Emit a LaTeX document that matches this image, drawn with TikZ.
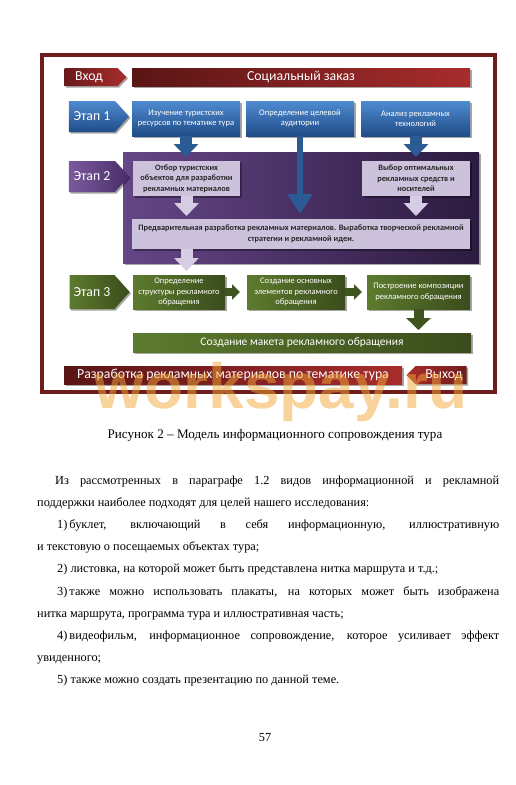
\documentclass[tikz,border=0pt]{standalone}
\usepackage{fontspec}
\setmainfont{Liberation Serif}
\newfontfamily\diagfont{Carlito}
\newfontfamily\wmfont{Liberation Sans}
\usetikzlibrary{shapes.symbols,shadows,arrows.meta,calc}
\definecolor{framec}{HTML}{6E1C1C}
\definecolor{redL}{HTML}{5A1515}
\definecolor{redR}{HTML}{A82C2C}
\definecolor{blueT}{HTML}{4F8BD0}
\definecolor{blueB}{HTML}{1F4C88}
\definecolor{bluearr}{HTML}{2B5B94}
\definecolor{purL}{HTML}{654686}
\definecolor{purR}{HTML}{2C1B40}
\definecolor{stagepL}{HTML}{7A5A9C}
\definecolor{stagepR}{HTML}{4A2C6A}
\definecolor{lav}{HTML}{CDC2DC}
\definecolor{lavarr}{HTML}{D6CCE3}
\definecolor{grL}{HTML}{5D7B2E}
\definecolor{grR}{HTML}{3A4C1C}
\definecolor{grarr}{HTML}{3E5520}
\definecolor{wmc}{HTML}{F2A83A}
\begin{document}
\begin{tikzpicture}[x=1pt,y=-1pt,
  shadowed/.style={drop shadow={shadow xshift=1.5pt,shadow yshift=-1.5pt,opacity=0.35,fill=black}},
  box/.style={rectangle,inner sep=0pt,outer sep=0pt,align=center},
  bigtxt/.style={font=\diagfont\fontsize{13.8}{15}\selectfont,text=white},
  smalltxt/.style={font=\diagfont\fontsize{8.5}{10.2}\selectfont},
  redbar/.style={box,shadowed,left color=redL,right color=redR,bigtxt},
  bluebox/.style={box,shadowed,top color=blueT,bottom color=blueB,smalltxt,text=white},
  lavbox/.style={box,shadowed,fill=lav,smalltxt,font=\diagfont\bfseries\fontsize{8.3}{10.4}\selectfont,text=black!85},
  greenbox/.style={box,shadowed,left color=grL,right color=grR,smalltxt,text=white},
  stagebox/.style={signal,signal to=east,signal pointer angle=96,inner sep=0pt,outer sep=0pt,shadowed,bigtxt},
  bodytxt/.style={anchor=base west,inner sep=0pt,font=\fontsize{12.3}{14}\selectfont},
  bluearrow/.style={line width=12pt,draw=bluearr,-{Triangle[width=24pt,length=13pt]}},
  thinbluearrow/.style={line width=6pt,draw=bluearr,-{Triangle[width=24pt,length=20pt]}},
  lavarrow/.style={line width=12pt,draw=lavarr,-{Triangle[width=24pt,length=13pt]}},
  greenarrow/.style={line width=8pt,draw=grarr,-{Triangle[width=15pt,length=8pt]}},
  greendown/.style={line width=10pt,draw=grarr,-{Triangle[width=24pt,length=12pt]}}
]
\useasboundingbox (0,0) rectangle (516,785);
\fill[white] (0,0) rectangle (516,785);

% frame
\node[draw=framec,line width=4pt,minimum width=453pt,minimum height=337pt,inner sep=0pt] (frame) at (268.5,223.5) {};

% row 0
\node[stagebox,signal pointer angle=90,left color=redL!80!redR,right color=redR,minimum width=62pt,minimum height=18pt] (vhod) at (91,77) {Вход\hspace*{4pt}};
\node[redbar,minimum width=338pt,minimum height=18pt] (soc) at (301,77) {Социальный заказ};

% row 1
\node[stagebox,top color=blueT,bottom color=blueB,minimum width=60pt,minimum height=31pt] (et1) at (92,116.5) {Этап 1};
\node[bluebox,minimum width=108pt,minimum height=35pt] (b1) at (186,118.5) {Изучение туристских\\ресурсов по тематике тура};
\node[bluebox,minimum width=108pt,minimum height=35pt] (b2) at (300,118.5) {Определение целевой\\аудитории};
\node[bluebox,minimum width=109pt,minimum height=35pt] (b3) at (415.5,118.5) {Анализ рекламных\\технологий};

% purple panel
\node[box,shadowed,left color=purL,right color=purR,minimum width=356pt,minimum height=111pt] (panel) at (301,207.5) {};
\node[stagebox,left color=stagepL,right color=stagepR,minimum width=60pt,minimum height=31pt] (et2) at (92,176.5) {Этап 2};
\node[lavbox,minimum width=107pt,minimum height=35pt] (l1) at (186.5,178.5) {Отбор туристских\\объектов для разработки\\рекламных материалов};
\node[lavbox,minimum width=108pt,minimum height=35pt] (l2) at (416,178.5) {Выбор оптимальных\\рекламных средств и\\носителей};
\node[lavbox,minimum width=338pt,minimum height=30pt] (pre) at (301,234) {Предварительная разработка рекламных материалов. Выработка творческой рекламной\\стратегии и рекламной идеи.};

% row 3
\node[stagebox,left color=grL,right color=grR,minimum width=60pt,minimum height=34pt] (et3) at (92,292) {Этап 3};
\node[greenbox,minimum width=92pt,minimum height=34pt] (g1) at (179,292) {Определение\\структуры рекламного\\обращения};
\node[greenbox,minimum width=98pt,minimum height=34pt] (g2) at (296,292) {Создание основных\\элементов рекламного\\обращения};
\node[greenbox,minimum width=103pt,minimum height=34pt] (g3) at (418.5,292) {Построение композиции\\рекламного обращения};
\node[greenbox,font=\diagfont\fontsize{11.5}{13}\selectfont,minimum width=338pt,minimum height=19pt] (maket) at (302,342.5) {Создание макета рекламного обращения};

% output row
\node[redbar,minimum width=338pt,minimum height=18pt] (razr) at (233,375) {Разработка рекламных материалов по тематике тура};
\node[stagebox,signal to=west,signal pointer angle=90,left color=redR,right color=redL!70!redR,minimum width=60pt,minimum height=18pt] (vyhod) at (441,375) {\hspace*{6pt}Выход};

% connectors
\draw[bluearrow,shorten >=4pt] (b1.south) -- (b1.south |- l1.north);
\draw[bluearrow,shorten >=4pt] (b3.south -| l2.north) -- (l2.north);
\draw[thinbluearrow,shorten >=5pt] (b2.south) -- (b2.south |- pre.north);
\draw[lavarrow,shorten >=3pt] (l1.south) -- (l1.south |- pre.north);
\draw[lavarrow,shorten >=3pt] (l2.south) -- (l2.south |- pre.north);
\draw[lavarrow,shorten >=4pt] (l1.south |- pre.south) -- (l1.south |- g1.north);
\draw[greenarrow,shorten >=7pt] (g1.east) -- (g2.west);
\draw[greenarrow,shorten >=5pt] (g2.east) -- (g3.west);
\draw[greendown,shorten >=3pt] (g3.south) -- (g3.south |- maket.north);

% watermark
\node[anchor=base,inner sep=0pt,font=\wmfont\bfseries\fontsize{64}{64}\selectfont,text=wmc,opacity=0.5] (wm) at (281,408) {workspay.ru};

% caption
\node[anchor=base,inner sep=0pt,font=\fontsize{13.1}{15}\selectfont] (cap) at (275,438) {Рисунок 2 – Модель информационного сопровождения тура};

% body text
\node[bodytxt] (t1) at (55,484) {\makebox[444pt][s]{Из рассмотренных в параграфе 1.2 видов информационной и рекламной}};
\node[bodytxt] (t2) at (37,506.2) {поддержки наиболее подходят для целей нашего исследования:};
\node[bodytxt] (t3) at (57,528.4) {\makebox[442pt][s]{1)\,буклет, включающий в себя информационную, иллюстративную}};
\node[bodytxt] (t4) at (37,550.6) {и текстовую о посещаемых объектах тура;};
\node[bodytxt] (t5) at (57,572.8) {2) листовка, на которой может быть представлена нитка маршрута и т.д.;};
\node[bodytxt] (t6) at (57,595) {\makebox[442pt][s]{3)\,также можно использовать плакаты, на которых может быть изображена}};
\node[bodytxt] (t7) at (37,617.2) {нитка маршрута, программа тура и иллюстративная часть;};
\node[bodytxt] (t8) at (57,639.4) {\makebox[442pt][s]{4)\,видеофильм, информационное сопровождение, которое усиливает эффект}};
\node[bodytxt] (t9) at (37,661.6) {увиденного;};
\node[bodytxt] (t10) at (57,683.8) {5) также можно создать презентацию по данной теме.};
\node[anchor=base,inner sep=0pt,font=\fontsize{12.3}{14}\selectfont] (pnum) at (265,741) {57};
\end{tikzpicture}
\end{document}
